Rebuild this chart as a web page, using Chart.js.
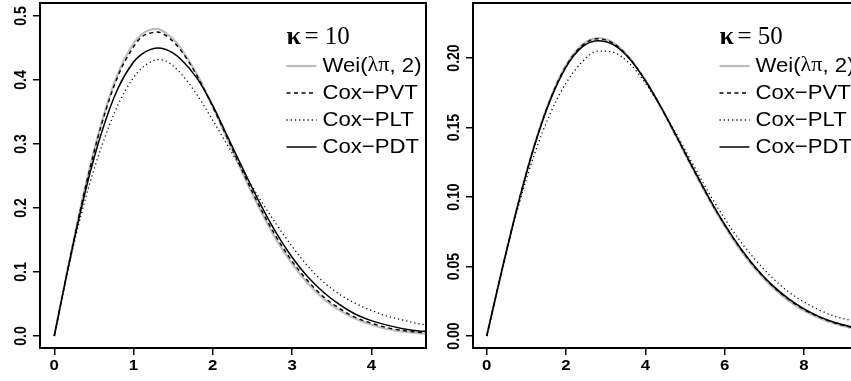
<!DOCTYPE html>
<html><head><meta charset="utf-8">
<script src="https://cdn.jsdelivr.net/npm/chart.js@4.4.0/dist/chart.umd.min.js"></script>
<style>
html,body{margin:0;padding:0;background:#fff;overflow:hidden}
#wrap{position:relative;width:851px;height:381px;background:#fff}
canvas{position:absolute;top:0}
#c1{left:0}
#c2{left:430px}
</style></head><body>
<div id="wrap"><canvas id="c1" width="430" height="381"></canvas><canvas id="c2" width="421" height="381"></canvas></div>
<script>
// ---- shared labels ----
const seriesNames = ['Wei(λπ, 2)', 'Cox−PVT', 'Cox−PLT', 'Cox−PDT'];
const kappaValues = ['10', '50'];

// ---- left panel (kappa = 10) ----
const x10 = [0,0.2,0.4,0.6,0.8,1.0,1.1,1.2,1.3,1.4,1.5,1.6,1.8,2.0,2.2,2.4,2.6,2.8,3.0,3.2,3.4,3.6,3.8,4.0,4.2,4.4,4.6,4.7];
const wei10 = [0,.123,.238,.335,.409,.457,.471,.478,.480,.474,.464,.449,.409,.358,.303,.248,.197,.151,.113,.082,.058,.040,.027,.018,.011,.007,.0045,.0037];
const pvt10 = [0,.122,.236,.332,.405,.452,.467,.473,.475,.470,.460,.446,.407,.358,.305,.251,.200,.155,.117,.086,.061,.043,.029,.020,.013,.0085,.0058,.0048];
const plt10 = [0,.118,.218,.297,.360,.404,.418,.427,.432,.430,.422,.410,.377,.337,.295,.254,.213,.175,.140,.109,.084,.065,.051,.040,.031,.025,.019,.017];
const pdt10 = [0,.121,.230,.319,.386,.428,.440,.447,.450,.448,.442,.432,.403,.360,.308,.256,.206,.161,.123,.092,.068,.049,.034,.024,.017,.0115,.008,.007];
const xTicks10 = [0,1,2,3,4];
const xLabels10 = ['0','1','2','3','4'];
const yTicks10 = [0,0.1,0.2,0.3,0.4,0.5];
const yLabels10 = ['0.0','0.1','0.2','0.3','0.4','0.5'];

// ---- right panel (kappa = 50) ----
const x50 = [0,0.4,0.8,1.2,1.6,2.0,2.4,2.8,3.2,3.6,4.0,4.4,4.8,5.2,5.6,6.0,6.4,6.8,7.2,7.6,8.0,8.4,8.8,9.2];
const wei50 = [0,.0495,.0961,.1371,.1704,.1947,.2093,.2144,.2109,.2002,.1839,.1640,.1422,.1199,.0986,.0791,.0618,.0472,.0353,.0257,.0183,.0128,.0087,.0058];
const pvt50 = [0,.0495,.0960,.1369,.1701,.1943,.2088,.2138,.2104,.1998,.1838,.1642,.1425,.1205,.0993,.0799,.0627,.0482,.0362,.0266,.0191,.0134,.0092,.0062];
const plt50 = [0,.0490,.0935,.1305,.1600,.1820,.1970,.2050,.2040,.1960,.1820,.1640,.1445,.1235,.1030,.0845,.0680,.0540,.0420,.0320,.0245,.0185,.0140,.0110];
const pdt50 = [0,.0494,.0958,.1365,.1695,.1935,.2078,.2125,.2095,.1995,.1838,.1645,.1430,.1210,.0998,.0803,.0632,.0486,.0366,.0270,.0195,.0138,.0096,.0066];
const xTicks50 = [0,2,4,6,8];
const xLabels50 = ['0','2','4','6','8'];
const yTicks50 = [0,0.05,0.10,0.15,0.20];
const yLabels50 = ['0.00','0.05','0.10','0.15','0.20'];

const SANS = '"Liberation Sans", Arial, Helvetica, sans-serif';
const SERIF = '"Liberation Serif", "Times New Roman", serif';
const styles = [
  {color:'#bdbdbd', width:2.2, dash:[]},
  {color:'#000', width:1.4, dash:[4,3.5]},
  {color:'#000', width:1.3, dash:[1.2,3]},
  {color:'#000', width:1.5, dash:[]}
];
const SX = 1.2;   // horizontal stretch of the reference's tick glyphs
const LSX = 1.08; // legend glyph stretch

function stretchText(ctx, text, x, y, sx) {
  ctx.save(); ctx.translate(x, y); ctx.scale(sx, 1); ctx.fillText(text, 0, 0); ctx.restore();
  return ctx.measureText(text).width * sx;
}

function framePlugin(opt) {
  return {
    id: 'frame' + opt.kappa,
    afterDraw(chart) {
      const ctx = chart.ctx, a = chart.chartArea, xs = chart.scales.x, ys = chart.scales.y;
      ctx.save();
      // box
      ctx.strokeStyle = '#000'; ctx.lineWidth = 2;
      ctx.beginPath();
      if (opt.rightBorder) {
        ctx.rect(a.left, a.top, a.right - a.left, a.bottom - a.top);
      } else {
        ctx.moveTo(a.right + 3, a.top); ctx.lineTo(a.left, a.top);
        ctx.lineTo(a.left, a.bottom); ctx.lineTo(a.right + 3, a.bottom);
      }
      ctx.stroke();
      ctx.fillStyle = '#000';
      ctx.font = 'bold 14px ' + SANS;
      ctx.textAlign = 'center'; ctx.textBaseline = 'middle';
      // x tick labels
      opt.xTicks.forEach((v, i) => {
        stretchText(ctx, opt.xLabels[i], xs.getPixelForValue(v), a.bottom + 18, SX);
      });
      // rotated y tick labels
      opt.yTicks.forEach((v, i) => {
        const py = ys.getPixelForValue(v);
        ctx.save(); ctx.translate(a.left - 19, py); ctx.scale(SX, 1); ctx.rotate(-Math.PI / 2);
        ctx.fillText(opt.yLabels[i], 0, 0); ctx.restore();
      });
      // legend
      const lx = a.left + 246.5;
      ctx.textAlign = 'left'; ctx.textBaseline = 'middle';
      ctx.font = 'bold 26px ' + SERIF;
      ctx.fillText('κ', lx, 37);
      ctx.font = '25px ' + SERIF;
      ctx.fillText('= ' + opt.kappa, lx + 18, 37);
      const rows = [66, 93, 120, 147];
      rows.forEach((ry, i) => {
        const st = styles[i];
        ctx.strokeStyle = st.color; ctx.lineWidth = st.width; ctx.setLineDash(st.dash);
        ctx.beginPath(); ctx.moveTo(lx, ry); ctx.lineTo(lx + 30, ry); ctx.stroke();
        ctx.setLineDash([]);
        ctx.fillStyle = '#000';
        let tx = lx + 36;
        if (i === 0) {
          const parts = [['Wei(', SANS], ['λπ', SERIF], [', 2)', SANS]];
          parts.forEach(p => { ctx.font = '20.5px ' + p[1]; tx += stretchText(ctx, p[0], tx, ry, LSX); });
        } else {
          ctx.font = '20.5px ' + SANS;
          stretchText(ctx, seriesNames[i], tx, ry, LSX);
        }
      });
      ctx.restore();
    }
  };
}

function buildChart(id, xs, ys, opt) {
  const datasets = ys.map((arr, i) => ({
    label: seriesNames[i],
    data: xs.map((x, j) => ({x: x, y: arr[j]})),
    borderColor: styles[i].color,
    borderWidth: styles[i].width,
    borderDash: styles[i].dash,
    pointRadius: 0,
    fill: false,
    cubicInterpolationMode: 'monotone',
    order: 3 - i
  }));
  const gridOpts = {display: true, drawOnChartArea: false, drawTicks: true, tickLength: 7, color: '#000', lineWidth: 1.5};
  return new Chart(document.getElementById(id), {
    type: 'line',
    data: {datasets: datasets},
    options: {
      responsive: false, animation: false, devicePixelRatio: 1,
      layout: {padding: {top: 3, right: opt.padRight, left: 0, bottom: 0}},
      plugins: {legend: {display: false}, tooltip: {enabled: false}},
      scales: {
        x: {
          type: 'linear', min: opt.xMin, max: opt.xMax,
          afterBuildTicks: s => { s.ticks = opt.xTicks.map(v => ({value: v})); },
          afterFit: s => { s.height = 33; },
          ticks: {display: false},
          grid: gridOpts,
          border: {display: false}
        },
        y: {
          type: 'linear', min: opt.yMin, max: opt.yMax,
          afterBuildTicks: s => { s.ticks = opt.yTicks.map(v => ({value: v})); },
          afterFit: s => { s.width = opt.yWidth; },
          ticks: {display: false},
          grid: gridOpts,
          border: {display: false}
        }
      }
    },
    plugins: [framePlugin(opt)]
  });
}

buildChart('c1', x10, [wei10, pvt10, plt10, pdt10], {
  kappa: kappaValues[0], xMin: -0.18, xMax: 4.69, yMin: -0.01875, yMax: 0.5203,
  xTicks: xTicks10, xLabels: xLabels10, yTicks: yTicks10, yLabels: yLabels10,
  yWidth: 40, padRight: 4, rightBorder: true
});
buildChart('c2', x50, [wei50, pvt50, plt50, pdt50], {
  kappa: kappaValues[1], xMin: -0.346, xMax: 9.186, yMin: -0.00863, yMax: 0.23957,
  xTicks: xTicks50, xLabels: xLabels50, yTicks: yTicks50, yLabels: yLabels50,
  yWidth: 43, padRight: 0, rightBorder: false
});
</script>
</body></html>
